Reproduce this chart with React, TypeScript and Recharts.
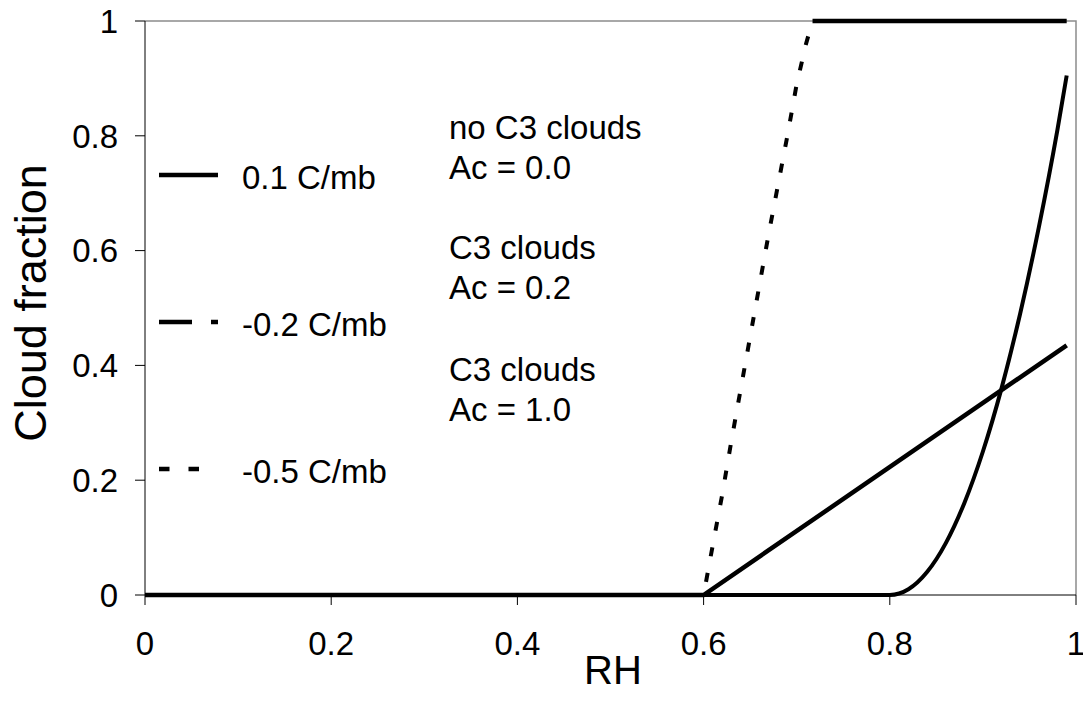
import React from "react";
import { LineChart, Line, XAxis, YAxis } from "recharts";

// ---- data ----
const RH_01 = [0, 0.6, 0.8, 0.82, 0.84, 0.86, 0.88, 0.9, 0.92, 0.94, 0.96, 0.98, 0.99];
const CF_01 = [0, 0, 0, 0.01, 0.04, 0.09, 0.16, 0.25, 0.36, 0.49, 0.64, 0.81, 0.905];

const RH_02 = [0, 0.6, 0.99];
const CF_02 = [0, 0, 0.435];

const RH_05 = [0, 0.6, 0.61, 0.62, 0.63, 0.64, 0.65, 0.66, 0.67, 0.68, 0.69, 0.7, 0.71, 0.717, 0.99];
const CF_05 = [0, 0, 0.088, 0.175, 0.27, 0.36, 0.45, 0.54, 0.63, 0.715, 0.8, 0.89, 0.96, 1, 1];

const X_TICKS = [0, 0.2, 0.4, 0.6, 0.8, 1];
const Y_TICKS = [0, 0.2, 0.4, 0.6, 0.8, 1];

const LEGEND_LABELS = ["0.1 C/mb", "-0.2 C/mb", "-0.5 C/mb"];
const ANNOTATIONS = ["no C3 clouds", "Ac = 0.0", "C3 clouds", "Ac = 0.2", "C3 clouds", "Ac = 1.0"];

const zip = (xs: number[], ys: number[]) => xs.map((x, i) => ({ x, y: ys[i] }));

const d01 = zip(RH_01, CF_01);
const d02 = zip(RH_02, CF_02);
const d05 = zip(RH_05, CF_05);
const d05Rise = d05.filter((p, i) => p.y < 1 || (i > 0 && d05[i - 1].y < 1));
const d05Flat = d05.filter((p) => p.y >= 1);

const FONT = '"Liberation Sans", Arial, sans-serif';
const W = 1083;
const H = 702;
const M = { top: 21, right: 7, bottom: 0, left: 0 };
const Y_AXIS_W = 145;
const X_AXIS_H = 107;
const PLOT = {
  left: M.left + Y_AXIS_W,
  right: W - M.right,
  top: M.top,
  bottom: H - M.bottom - X_AXIS_H,
};

const legendStyles = [
  { dash: undefined as string | undefined },
  { dash: "33 19 7 19" },
  { dash: "10.5 19" },
];
const legendY = [175, 322, 469];
const annotationY = [139, 179, 259, 299, 381, 421];

export default function App() {
  return (
    <div style={{ position: "absolute", left: 0, top: 0, width: W, height: H, background: "#fff", fontFamily: FONT }}>
      {/* plot-area frame, drawn behind the chart so series lines cover it */}
      <svg width={W} height={H} style={{ position: "absolute", left: 0, top: 0 }}>
        <polyline
          points={`${PLOT.left},${PLOT.top} ${PLOT.right},${PLOT.top} ${PLOT.right},${PLOT.bottom}`}
          fill="none"
          stroke="#8c8c8c"
          strokeWidth={1.5}
        />
      </svg>
      <div style={{ position: "absolute", left: 0, top: 0 }}>
        <LineChart width={W} height={H} margin={M}>
          <XAxis
            dataKey="x"
            type="number"
            domain={[0, 1]}
            ticks={X_TICKS}
            height={X_AXIS_H}
            tickSize={10}
            tickMargin={27}
            axisLine={{ stroke: "#000", strokeWidth: 1 }}
            tickLine={{ stroke: "#000" }}
            tick={{ fill: "#000", fontSize: 33, fontFamily: FONT }}
            interval={0}
          />
          <YAxis
            type="number"
            domain={[0, 1]}
            ticks={Y_TICKS}
            width={Y_AXIS_W}
            tickSize={10}
            tickMargin={17}
            axisLine={{ stroke: "#000", strokeWidth: 1 }}
            tickLine={{ stroke: "#000" }}
            tick={{ fill: "#000", fontSize: 33, fontFamily: FONT }}
            interval={0}
          />
          <Line data={d02} dataKey="y" type="linear" stroke="#000" strokeWidth={4.5} dot={false} isAnimationActive={false} />
          <Line data={d05Rise} dataKey="y" type="linear" stroke="#000" strokeWidth={4} strokeDasharray="9 17" dot={false} isAnimationActive={false} />
          <Line data={d05Flat} dataKey="y" type="linear" stroke="#000" strokeWidth={4.5} dot={false} isAnimationActive={false} />
          <Line data={d01} dataKey="y" type="monotone" stroke="#000" strokeWidth={4} dot={false} isAnimationActive={false} />
        </LineChart>
      </div>
      <svg width={W} height={H} style={{ position: "absolute", left: 0, top: 0, pointerEvents: "none" }}>
        {LEGEND_LABELS.map((lab, i) => (
          <g key={lab}>
            <line x1={159} x2={218} y1={legendY[i]} y2={legendY[i]} stroke="#000" strokeWidth={4.5} strokeDasharray={legendStyles[i].dash} />
            <text x={242} y={legendY[i] + 14} fontSize={33} fontFamily={FONT} fill="#000">{lab}</text>
          </g>
        ))}
        {ANNOTATIONS.map((t, i) => (
          <text key={i} x={449} y={annotationY[i]} fontSize={33} fontFamily={FONT} fill="#000">{t}</text>
        ))}
        <text transform="translate(46,303) rotate(-90)" textAnchor="middle" fontSize={45} fontFamily={FONT} fill="#000">Cloud fraction</text>
        <text x={613} y={684} textAnchor="middle" fontSize={40} fontFamily={FONT} fill="#000">RH</text>
      </svg>
    </div>
  );
}
